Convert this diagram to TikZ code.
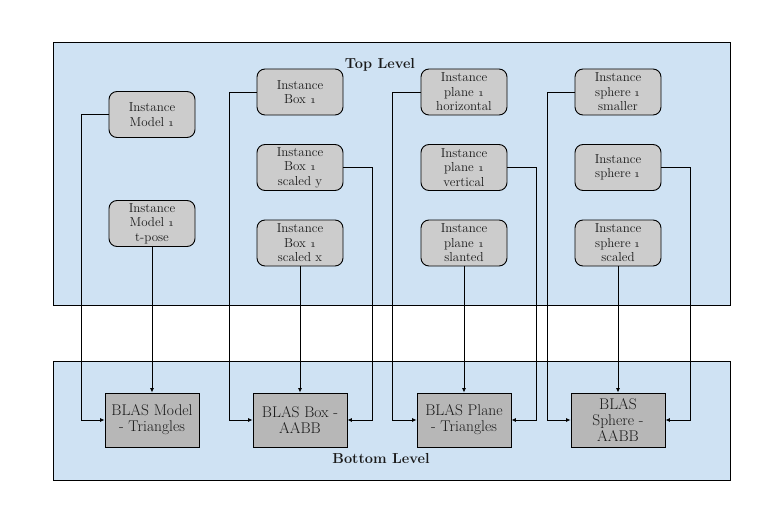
\documentclass[tikz,border=0pt]{standalone}
\usetikzlibrary{arrows.meta}
\definecolor{panelblue}{HTML}{CFE2F3}
\definecolor{instgray}{HTML}{CCCCCC}
\definecolor{blasgray}{HTML}{B7B7B7}
\definecolor{inktext}{HTML}{1A1A1A}
\newcommand{\one}{\oldstylenums{1}}
\begin{document}
\begin{tikzpicture}[x=1pt,y=-1pt,
  panel/.style={draw=black, fill=panelblue, line width=0.9pt},
  inst/.style={draw=black, fill=instgray, rounded corners=8pt, line width=0.9pt,
    minimum width=86pt, minimum height=46pt, align=center, inner sep=1pt,
    font=\fontsize{13}{14.5}\selectfont, text=inktext},
  blas/.style={draw=black, fill=blasgray, line width=0.9pt,
    minimum width=94pt, minimum height=54pt, align=center, inner sep=1pt,
    font=\fontsize{15.5}{16}\selectfont, text=inktext},
  title/.style={font=\fontsize{14.5}{16}\selectfont\bfseries, text=inktext},
  conn/.style={draw=black, line width=0.8pt},
  arr/.style={conn, -{Latex[length=4.5pt,width=4pt]}}
]
\useasboundingbox (0,0) rectangle (782,527);
\fill[white] (0,0) rectangle (782,527);
\draw[panel] (53,42) rectangle (730,305);
\draw[panel] (53,361) rectangle (730,480);
\node[title] (top) at (380,65) {Top Level};
\node[title] (bot) at (381,459) {Bottom Level};

% top-level instances
\node[inst] (m1) at (152,114.5) {Instance\\Model \one};
\node[inst] (m2) at (152,223.5) {Instance\\Model \one\\t-pose};
\node[inst] (b1) at (300,92) {Instance\\Box \one};
\node[inst] (b2) at (300,167.5) {Instance\\Box \one\\scaled y};
\node[inst] (b3) at (300,243) {Instance\\Box \one\\scaled x};
\node[inst] (p1) at (464,92) {Instance\\plane \one\\horizontal};
\node[inst] (p2) at (464,167.5) {Instance\\plane \one\\vertical};
\node[inst] (p3) at (464,243) {Instance\\plane \one\\slanted};
\node[inst] (s1) at (618,92) {Instance\\sphere \one\\smaller};
\node[inst] (s2) at (618,167.5) {Instance\\sphere \one};
\node[inst] (s3) at (618,243) {Instance\\sphere \one\\scaled};

% bottom-level BLAS
\node[blas] (bm) at (152,420) {BLAS Model\\- Triangles};
\node[blas] (bb) at (300,420) {BLAS Box -\\AABB};
\node[blas] (bp) at (464,420) {BLAS Plane\\- Triangles};
\node[blas] (bs) at (618,420) {BLAS\\Sphere -\\AABB};

% connectors
\draw[arr] (m1.west) -- (81,114.5) |- (bm.west);
\draw[arr] (m2.south) -- (bm.north);
\draw[arr] (b1.west) -- (229,92) |- (bb.west);
\draw[arr] (b2.east) -- (372,167.5) |- (bb.east);
\draw[arr] (b3.south) -- (bb.north);
\draw[arr] (p1.west) -- (392,92) |- (bp.west);
\draw[arr] (p2.east) -- (536,167.5) |- (bp.east);
\draw[arr] (p3.south) -- (bp.north);
\draw[arr] (s1.west) -- (547,92) |- (bs.west);
\draw[arr] (s2.east) -- (690,167.5) |- (bs.east);
\draw[arr] (s3.south) -- (bs.north);
\end{tikzpicture}
\end{document}
